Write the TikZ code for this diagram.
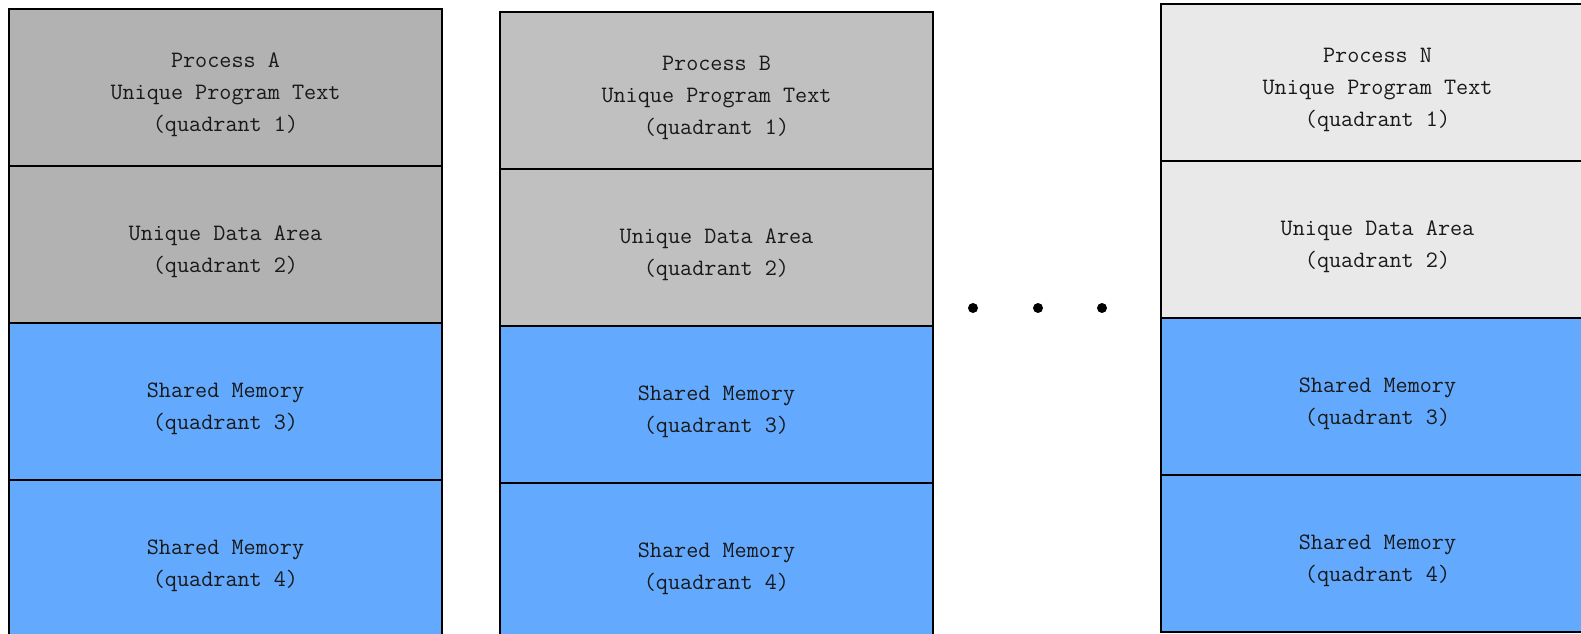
\documentclass[tikz,border=0pt]{standalone}
\usepackage{fontspec}
\definecolor{grayA}{HTML}{B2B2B2}
\definecolor{grayB}{HTML}{C0C0C0}
\definecolor{grayN}{HTML}{E9E9E9}
\definecolor{shared}{HTML}{63AAFF}
\tikzset{
  band/.style={draw=black, line width=1.6pt, minimum width=433pt, minimum height=157pt,
    inner sep=0pt},
  bandtext/.style={yshift=-7.5pt, align=center, text=black!90,
    font=\ttfamily\fontsize{23.5}{32}\selectfont},
  dotmark/.style={circle, fill=black, inner sep=0pt, minimum size=10pt}
}
\begin{document}
\begin{tikzpicture}[x=1pt,y=-1pt]
\useasboundingbox (0,0) rectangle (1581,634);
\clip (0,0) rectangle (1581,634);
\fill[white] (0,0) rectangle (1581,634);
% Process A
\node[band, fill=grayA,  label={[bandtext]center:{Process A\\Unique Program Text\\(quadrant 1)}}] (a1) at (225.5, 87.5)  {};
\node[band, fill=grayA,  label={[bandtext]center:{Unique Data Area\\(quadrant 2)}}] (a2) at (225.5, 244.5) {};
\node[band, fill=shared, label={[bandtext]center:{Shared Memory\\(quadrant 3)}}] (a3) at (225.5, 401.5) {};
\node[band, fill=shared, label={[bandtext]center:{Shared Memory\\(quadrant 4)}}] (a4) at (225.5, 558.5) {};
% Process B
\node[band, fill=grayB,  label={[bandtext]center:{Process B\\Unique Program Text\\(quadrant 1)}}] (b1) at (716.5, 90.5)  {};
\node[band, fill=grayB,  label={[bandtext]center:{Unique Data Area\\(quadrant 2)}}] (b2) at (716.5, 247.5) {};
\node[band, fill=shared, label={[bandtext]center:{Shared Memory\\(quadrant 3)}}] (b3) at (716.5, 404.5) {};
\node[band, fill=shared, label={[bandtext]center:{Shared Memory\\(quadrant 4)}}] (b4) at (716.5, 561.5) {};
% Process N
\node[band, fill=grayN,  label={[bandtext]center:{Process N\\Unique Program Text\\(quadrant 1)}}] (n1) at (1377.5, 82.5)  {};
\node[band, fill=grayN,  label={[bandtext]center:{Unique Data Area\\(quadrant 2)}}] (n2) at (1377.5, 239.5) {};
\node[band, fill=shared, label={[bandtext]center:{Shared Memory\\(quadrant 3)}}] (n3) at (1377.5, 396.5) {};
\node[band, fill=shared, label={[bandtext]center:{Shared Memory\\(quadrant 4)}}] (n4) at (1377.5, 553.5) {};
% ellipsis dots
\node[dotmark] (d1) at (973, 308) {};
\node[dotmark] (d2) at (1038, 308) {};
\node[dotmark] (d3) at (1102, 308) {};
\end{tikzpicture}
\end{document}
